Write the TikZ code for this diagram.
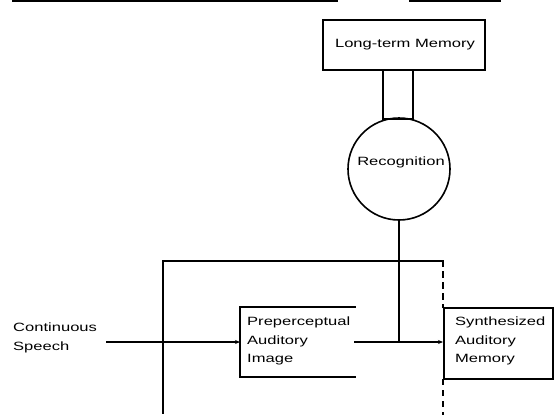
\documentclass[tikz,border=0pt]{standalone}
\usepackage{fontspec}
\newfontfamily\diagfont[FakeStretch=1.38]{Liberation Sans}
\usetikzlibrary{arrows.meta}
\tikzset{
  ln/.style={line width=1.6pt, line cap=rect},
  lbl/.style={font=\diagfont\fontsize{12}{18.5}\selectfont, inner sep=0pt, align=left},
  arr/.style={ln, -{Stealth[length=5pt,width=4pt]}},
}
\begin{document}
\begin{tikzpicture}[x=1pt,y=-1pt]
\useasboundingbox (0,0) rectangle (555,415);
% top cut-off lines
\draw[ln] (13,1) -- (337,1);
\draw[ln] (410,1) -- (500,1);
% Long-term memory box
\node[draw, line width=1.6pt, minimum width=162pt, minimum height=50pt, inner sep=0pt] (ltm) at (404,45) {};
\node[lbl] (ltmt) at (405,45) {Long-term Memory};
% connector box between LTM and recognition
\coordinate (c1) at (383,70);
\coordinate (c2) at (413,70);
\coordinate (c3) at (383,119);
\coordinate (c4) at (413,119);
\draw[ln] (c1) -- (c3) -- (c4) -- (c2);
% Recognition circle
\node[draw, circle, line width=1.6pt, minimum size=102pt, inner sep=0pt] (rec) at (399,169) {};
\node[lbl] (rect) at (401,162) {Recognition};
% vertical from recognition
\coordinate (j2) at (399,342);
\draw[ln] (rec.south) -- (j2);
% feedback horizontal line
\coordinate (fl) at (163,261);
\coordinate (fr) at (443,261);
\coordinate (fb) at (163,413);
\draw[ln] (fb) -- (fl) -- (fr);
% Preperceptual box (open on right)
\coordinate (p1) at (355,307);
\coordinate (p2) at (240,307);
\coordinate (p3) at (240,377);
\coordinate (p4) at (355,377);
\draw[ln] (p1) -- (p2) -- (p3) -- (p4);
\node[lbl, anchor=north west] (pre) at (247,317) {Preperceptual\\Auditory\\Image};
% input
\node[lbl, anchor=north west] (cs) at (13,323) {Continuous\\Speech};
\coordinate (in) at (107,342);
\coordinate (pin) at (240,342);
\draw[arr] (in) -- (pin);
% Synthesized box
\node[draw, line width=1.6pt, minimum width=109pt, minimum height=71pt, inner sep=0pt, anchor=north west] (syn) at (443,307) {};
\node[lbl, anchor=north west] (synt) at (455,317) {Synthesized\\Auditory\\Memory};
\coordinate (pout) at (355,342);
\draw[arr] (pout) -- (syn.west |- pout);
% dashed vertical at synthesized
\coordinate (db) at (443,415);
\draw[ln, dashed, dash pattern=on 5pt off 6pt] (fr) -- (syn.north west);
\draw[ln, dashed, dash pattern=on 5pt off 6pt] (syn.south west) -- (db);
\end{tikzpicture}
\end{document}
